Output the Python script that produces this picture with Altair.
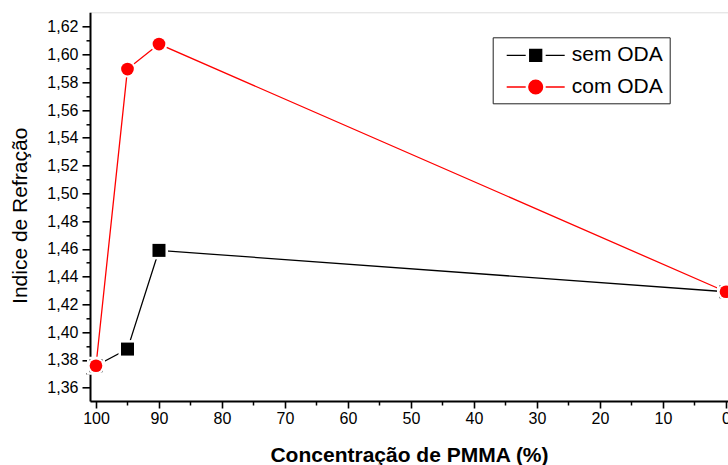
import altair as alt
import pandas as pd

# ---- data ----
concentracao = [100, 95, 90, 0]
sem_oda = [1.3758, 1.3878, 1.4589, 1.4291]
com_oda = [1.3758, 1.5895, 1.6075, 1.4291]
series = ["sem ODA", "com ODA"]
colors = ["#000000", "#ff0000"]

x_major = [100, 90, 80, 70, 60, 50, 40, 30, 20, 10, 0]
x_minor = [95, 85, 75, 65, 55, 45, 35, 25, 15, 5]
y_major = [1.36, 1.38, 1.40, 1.42, 1.44, 1.46, 1.48, 1.50, 1.52, 1.54, 1.56, 1.58, 1.60, 1.62]
y_minor = [1.37, 1.39, 1.41, 1.43, 1.45, 1.47, 1.49, 1.51, 1.53, 1.55, 1.57, 1.59, 1.61]

rows = []
for c, v in zip(concentracao, sem_oda):
    rows.append({"conc": c, "n": v, "serie": series[0]})
for c, v in zip(concentracao, com_oda):
    rows.append({"conc": c, "n": v, "serie": series[1]})
df = pd.DataFrame(rows)

FONT = "Liberation Sans"

x_scale = alt.Scale(domain=[100.95, -0.32], nice=False, zero=False)
y_scale = alt.Scale(domain=[1.3504, 1.6304], nice=False, zero=False)

# legend symbols: line - marker - line (unit = half symbol width)
sq_path = "M-2.636,0H-0.909M0.909,0H2.636M-0.545,-0.545H0.545V0.545H-0.545Z"
ci_path = ("M-2.636,0H-0.909M0.909,0H2.636M-0.627,0A0.627,0.627,0,1,0,0.627,0"
           "A0.627,0.627,0,1,0,-0.627,0Z")

common_axis = dict(grid=False, domainColor="black", tickColor="black",
                   labelColor="black", titleColor="black",
                   labelFont=FONT, titleFont=FONT, labelOverlap=False)

x_axis_major = alt.Axis(values=x_major, orient="bottom", format="d",
                        title="Concentração de PMMA (%)",
                        tickSize=7, tickWidth=1.6, domainWidth=2,
                        labelFontSize=16, labelPadding=2, labelFlush=False,
                        titleFontSize=21, titleFontWeight="bold",
                        titleY=60, titleBaseline="alphabetic",
                        **common_axis)
y_axis_major = alt.Axis(values=y_major, orient="left",
                        labelExpr="replace(format(datum.value, '.2f'), '.', ',')",
                        title="Indice de Refração",
                        tickSize=8, tickWidth=1.6, domainWidth=2,
                        labelFontSize=16, labelPadding=4,
                        titleFontSize=21, titleFontWeight="normal",
                        titleAngle=270, titleX=-70, titleY=203,
                        titleBaseline="middle",
                        **common_axis)
x_axis_minor = alt.Axis(values=x_minor, orient="bottom", labels=False,
                        domain=False, tickSize=4, tickWidth=1.5, title=None,
                        grid=False, tickColor="black")
y_axis_minor = alt.Axis(values=y_minor, orient="left", labels=False,
                        domain=False, tickSize=4, tickWidth=1.5, title=None,
                        grid=False, tickColor="black")

base = alt.Chart(df)


def line(name, color, with_axes):
    xa = x_axis_major if with_axes else None
    ya = y_axis_major if with_axes else None
    return base.transform_filter(alt.datum.serie == name).mark_line(
        strokeWidth=1.3, color=color
    ).encode(
        x=alt.X("conc:Q", scale=x_scale, axis=xa),
        y=alt.Y("n:Q", scale=y_scale, axis=ya),
    )


def halo(name, shape, size, with_axes):
    xa = x_axis_minor if with_axes else None
    ya = y_axis_minor if with_axes else None
    return base.transform_filter(alt.datum.serie == name).mark_point(
        shape=shape, filled=True, color="white", size=size, opacity=1
    ).encode(
        x=alt.X("conc:Q", scale=x_scale, axis=xa),
        y=alt.Y("n:Q", scale=y_scale, axis=ya),
    )


def markers(name, shape, size, color):
    return base.transform_filter(alt.datum.serie == name).mark_point(
        shape=shape, filled=True, size=size, opacity=1, strokeWidth=0,
        color=color
    ).encode(
        x=alt.X("conc:Q", scale=x_scale, axis=None),
        y=alt.Y("n:Q", scale=y_scale, axis=None),
    )


legend = alt.Legend(
    title=None, orient="none", legendX=402.7, legendY=25,
    padding=6, strokeColor="#222222", fillColor="white",
    labelFont=FONT, labelFontSize=21, labelColor="black",
    labelExpr="datum.label + '\\u00a0\\u00a0'",
    symbolSize=484, symbolOffset=25, labelOffset=24, rowPadding=9.7,
    symbolStrokeWidth=1.3, symbolOpacity=1,
)

# layer that only carries the legend (its marks are invisible)
legend_layer = base.mark_point(filled=True, opacity=0).encode(
    x=alt.X("conc:Q", scale=x_scale, axis=None),
    y=alt.Y("n:Q", scale=y_scale, axis=None),
    fill=alt.Fill("serie:N", scale=alt.Scale(domain=series, range=colors), legend=legend),
    stroke=alt.Stroke("serie:N", scale=alt.Scale(domain=series, range=colors), legend=legend),
    shape=alt.Shape("serie:N", scale=alt.Scale(domain=series, range=[sq_path, ci_path]),
                    legend=legend),
)

chart = alt.layer(
    line(series[0], colors[0], True),
    line(series[1], colors[1], False),
    halo(series[0], "square", 324, True),
    markers(series[0], "square", 169, colors[0]),
    halo(series[1], "circle", 292, False),
    markers(series[1], "circle", 161, colors[1]),
    legend_layer,
).resolve_axis(
    x="independent", y="independent"
).properties(
    width=638, height=388.7,
    padding={"left": 90, "top": 12.3, "right": 0, "bottom": 64},
    autosize=alt.AutoSizeParams(type="none"),
).configure_view(stroke=None).configure(font=FONT)

chart.save("out.html", embed_options={"renderer": "svg", "actions": False})
